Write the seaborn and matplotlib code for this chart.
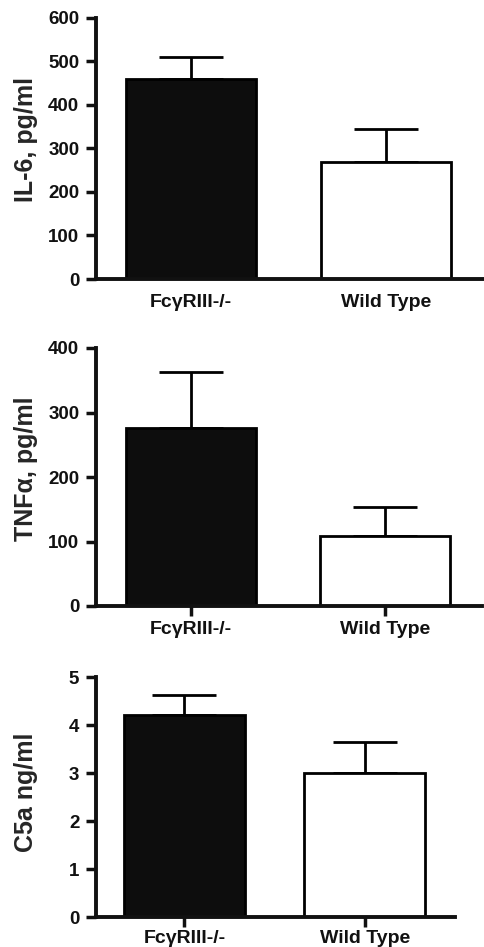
import numpy as np
import pandas as pd
import seaborn as sns
import matplotlib.pyplot as plt

groups = ['FcγRIII-/-', 'Wild Type']

il6 = [460, 269]
il6_err = [51, 76]

tnf = [276, 108]
tnf_err = [87, 45]

c5a = [4.21, 3.0]
c5a_err = [0.42, 0.65]

sns.set_theme(style='ticks')
plt.rcParams['font.family'] = ['Liberation Sans', 'DejaVu Sans']
plt.rcParams['font.weight'] = 'bold'

W, H = 485, 947
fig = plt.figure(figsize=(W / 100, H / 100), dpi=100)

# (left, right, top, bottom) in pixels, ylim, ticks, label, label y, x tick length, x label pad
panels = [
    (96, 483, 18, 279, il6, il6_err, (0, 600), np.arange(0, 601, 100), 'IL-6, pg/ml', 0.534, 0, 11),
    (96, 482, 348, 606, tnf, tnf_err, (0, 400), np.arange(0, 401, 100), 'TNFα, pg/ml', 0.533, 7, 4),
    (96, 455, 677, 917, c5a, c5a_err, (0, 5), np.arange(0, 6, 1), 'C5a ng/ml', 0.52, 7, 2),
]

for left, right, top, bottom, vals, errs, ylim, yticks, label, label_y, xlen, xpad in panels:
    ax = fig.add_axes([left / W, 1 - bottom / H, (right - left) / W, (bottom - top) / H])
    df = pd.DataFrame({'group': groups, 'value': vals})
    sns.barplot(data=df, x='group', y='value', hue='group', palette=['#0d0d0d', 'white'],
                edgecolor='black', linewidth=2, width=0.67, errorbar=None, legend=False, ax=ax)
    ax.errorbar([0, 1], vals, yerr=[[0, 0], errs], fmt='none', ecolor='black',
                elinewidth=2, capsize=23, capthick=2, zorder=0.5)
    ax.set_xlim(-0.49, 1.5)
    ax.set_ylim(*ylim)
    ax.set_yticks(yticks)
    ax.set_xlabel('')
    ax.set_ylabel(label, fontsize=18, fontweight='bold')
    ax.yaxis.set_label_coords(-(96 - 38) / (right - left), label_y)
    sns.despine(ax=ax)
    for s in ['left', 'bottom']:
        ax.spines[s].set_linewidth(2.8)
        ax.spines[s].set_color('#111111')
    ax.tick_params(axis='y', length=7, width=2.5, labelsize=13.5, pad=5, colors='#111111')
    ax.tick_params(axis='x', length=xlen, width=2.5, labelsize=14, pad=xpad, colors='#111111')
    for t in ax.get_xticklabels() + ax.get_yticklabels():
        t.set_fontweight('bold')

fig.savefig('out.png', dpi=100)
